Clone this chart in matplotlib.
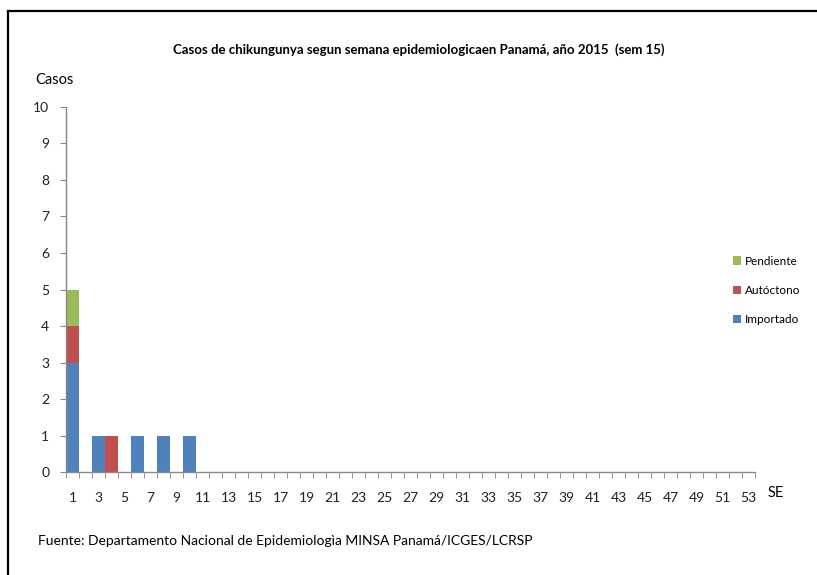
import matplotlib
matplotlib.use('Agg')
import matplotlib.pyplot as plt
import numpy as np
from matplotlib.lines import Line2D

plt.rcParams['font.family'] = ['Lato', 'DejaVu Sans']

# epidemiological weeks 1..53
weeks = list(range(1, 54))
importado = [3, 0, 1, 0, 0, 1, 0, 1, 0, 1] + [0] * 43
autoctono = [1, 0, 0, 1, 0, 0, 0, 0, 0, 0] + [0] * 43
pendiente = [1, 0, 0, 0, 0, 0, 0, 0, 0, 0] + [0] * 43

col_imp = '#4f81bd'
col_aut = '#c0504d'
col_pen = '#9bbb59'

fig = plt.figure(figsize=(8.17, 5.75), dpi=100)
ax = fig.add_axes([0.0808, 0.179, 0.8433, 0.635])

x = np.arange(len(weeks))
imp = np.array(importado)
aut = np.array(autoctono)
pen = np.array(pendiente)
ax.bar(x, imp, width=1.0, color=col_imp, label='Importado')
ax.bar(x, aut, width=1.0, bottom=imp, color=col_aut, label='Autóctono')
ax.bar(x, pen, width=1.0, bottom=imp + aut, color=col_pen, label='Pendiente')

ax.set_xlim(-0.5, len(weeks) - 0.5)
ax.set_ylim(0, 10)
ax.set_yticks(range(0, 11))

# labels on odd weeks, tick marks between categories
ax.set_xticks(x[::2])
ax.set_xticklabels([str(w) for w in weeks[::2]])
ax.set_xticks(np.arange(-0.5, len(weeks), 1.0), minor=True)
ax.tick_params(axis='x', which='major', length=0, pad=14, labelsize=10, colors='#222222')
ax.tick_params(axis='x', which='minor', length=4, color='#888888', direction='out')
ax.tick_params(axis='y', length=4, color='#888888', labelcolor='#222222', labelsize=10, pad=8)

for s in ['top', 'right']:
    ax.spines[s].set_visible(False)
for s in ['left', 'bottom']:
    ax.spines[s].set_color('#888888')
    ax.spines[s].set_linewidth(1.0)

fig.text(0.512, 0.913, 'Casos de chikungunya segun semana epidemiologicaen Panamá, año 2015  (sem 15)',
         ha='center', va='center', fontsize=9.5, fontweight='bold')
fig.text(0.067, 0.86, 'Casos', ha='center', va='center', fontsize=10.5)
fig.text(0.949, 0.143, 'SE', ha='center', va='center', fontsize=10.5)
fig.text(0.046, 0.059, 'Fuente: Departamento Nacional de Epidemiologìa MINSA Panamá/ICGES/LCRSP',
         ha='left', va='center', fontsize=10)

handles, labels = ax.get_legend_handles_labels()
leg = fig.legend(handles[::-1], labels[::-1], loc='center left',
                 bbox_to_anchor=(0.897, 0.495), frameon=False, fontsize=8.5,
                 handlelength=0.7, handleheight=0.7, handletextpad=0.3, labelspacing=1.55,
                 borderpad=0, borderaxespad=0)

# outer frame (left and top edges visible)
fig.add_artist(Line2D([0.010, 1.0], [0.981, 0.981], color='black', lw=1.6, transform=fig.transFigure))
fig.add_artist(Line2D([0.010, 0.010], [0.0, 0.981], color='black', lw=1.6, transform=fig.transFigure))

fig.savefig('out.png', dpi=100)
